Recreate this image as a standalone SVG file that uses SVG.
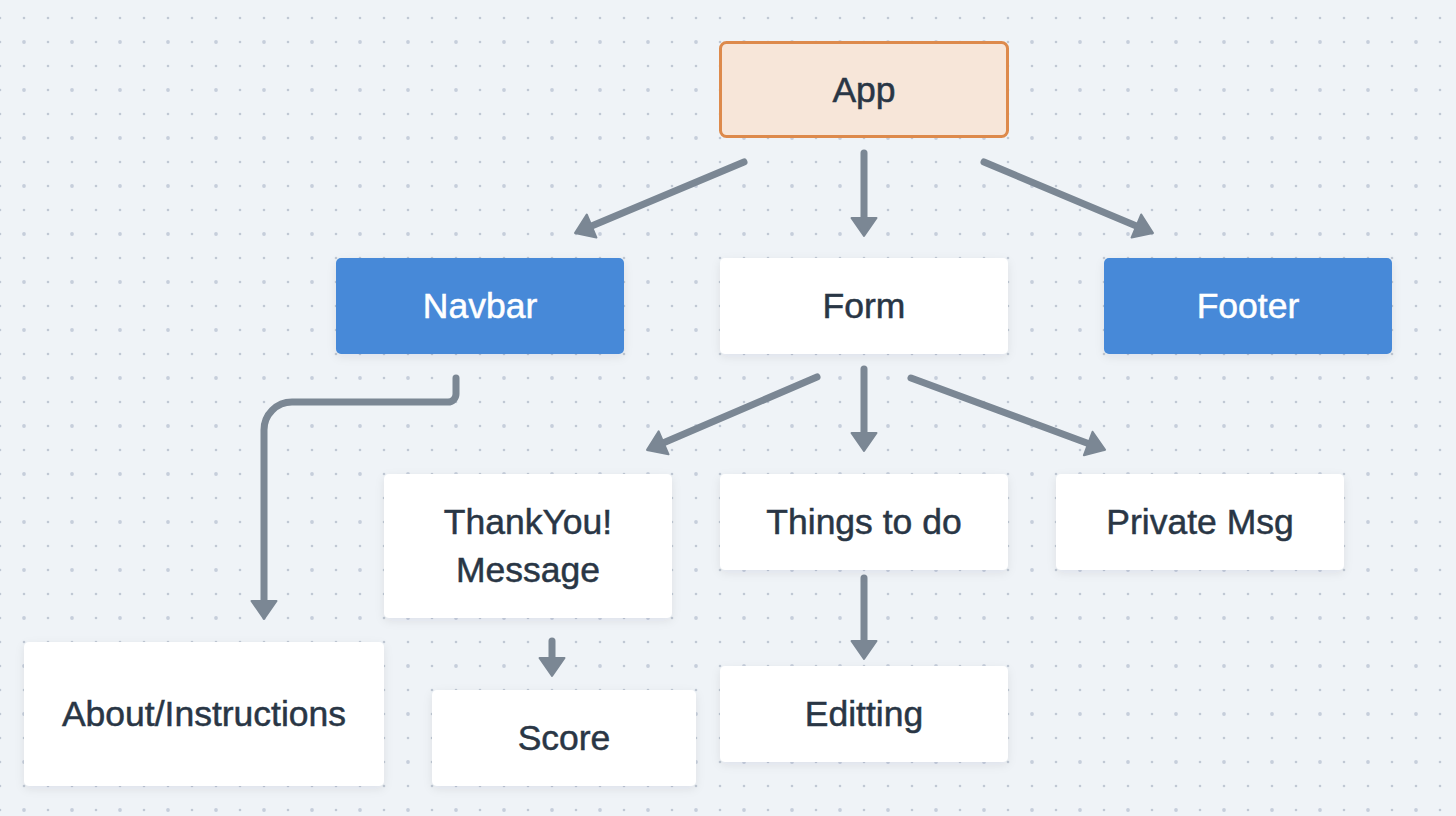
<svg xmlns="http://www.w3.org/2000/svg" width="1456" height="816" viewBox="0 0 1456 816">
<defs>
<pattern id="dots" x="0" y="18" width="48" height="48" patternUnits="userSpaceOnUse">
<circle cx="0" cy="0" r="1.3" fill="#c0c8d4"/>
<circle cx="24" cy="0" r="1.3" fill="#c0c8d4"/>
<circle cx="0" cy="24" r="1.3" fill="#c0c8d4"/>
<circle cx="24" cy="24" r="1.9" fill="#c6cedb"/>
<circle cx="48" cy="0" r="1.3" fill="#c0c8d4"/>
<circle cx="0" cy="48" r="1.3" fill="#c0c8d4"/>
<circle cx="48" cy="48" r="1.3" fill="#c0c8d4"/>
<circle cx="48" cy="24" r="1.3" fill="#c0c8d4"/>
<circle cx="24" cy="48" r="1.3" fill="#c0c8d4"/>
</pattern>
<filter id="sh" x="-10%" y="-20%" width="120%" height="150%">
<feDropShadow dx="0" dy="3" stdDeviation="5" flood-color="#1e2a3a" flood-opacity="0.08"/>
</filter>
<marker id="ah" markerUnits="userSpaceOnUse" markerWidth="40" markerHeight="40" refX="0" refY="0" orient="auto" viewBox="-4 -20 40 40" overflow="visible">
<path d="M0,-12.5 L18,0 L0,12.5 Z" fill="#7b8794" stroke="#7b8794" stroke-width="2" stroke-linejoin="round"/>
</marker>
<style>
.n{fill:#ffffff;filter:url(#sh)}
.b{fill:#4689d8;filter:url(#sh)}
.t{font-family:"Liberation Sans",Arial,sans-serif;font-size:35.5px;fill:#293645;stroke:#293645;stroke-width:0.5;text-anchor:middle}
.w{fill:#ffffff;stroke:#ffffff}
.c{fill:none;stroke:#7b8794;stroke-width:7;stroke-linecap:round;stroke-linejoin:round;marker-end:url(#ah)}
</style>
</defs>
<rect width="1456" height="816" fill="#eff3f7"/>
<rect width="1456" height="816" fill="url(#dots)"/>

<g id="connectors">
<line class="c" x1="744" y1="162" x2="591.6" y2="226"/>
<line class="c" x1="864" y1="153" x2="864" y2="218"/>
<line class="c" x1="984" y1="162" x2="1136.4" y2="226"/>
<path class="c" d="M456,378 L456,394 A8,8 0 0 1 448,402 L292,402 A28,28 0 0 0 264,430 L264,601"/>
<line class="c" x1="817" y1="377" x2="663.6" y2="442.8"/>
<line class="c" x1="864" y1="369" x2="864" y2="433"/>
<line class="c" x1="911" y1="378" x2="1088.2" y2="443.5"/>
<line class="c" x1="864" y1="578" x2="864" y2="641"/>
<line class="c" x1="552" y1="641" x2="552" y2="658"/>
</g>

<g id="app">
<rect x="720.5" y="42.5" width="287" height="94" rx="6" fill="#f7e6d9" stroke="#dd8a4c" stroke-width="3"/>
<text class="t" x="864" y="102">App</text>
</g>
<g id="navbar">
<rect class="b" x="336" y="258" width="288" height="96" rx="5"/>
<text class="t w" x="480" y="318">Navbar</text>
</g>
<g id="form">
<rect class="n" x="720" y="258" width="288" height="96" rx="5"/>
<text class="t" x="864" y="318">Form</text>
</g>
<g id="footer">
<rect class="b" x="1104" y="258" width="288" height="96" rx="5"/>
<text class="t w" x="1248" y="318">Footer</text>
</g>
<g id="thankyou">
<rect class="n" x="384" y="474" width="288" height="144" rx="5"/>
<text class="t" x="528" y="534">ThankYou!</text>
<text class="t" x="528" y="582">Message</text>
</g>
<g id="things">
<rect class="n" x="720" y="474" width="288" height="96" rx="5"/>
<text class="t" x="864" y="534">Things to do</text>
</g>
<g id="private">
<rect class="n" x="1056" y="474" width="288" height="96" rx="5"/>
<text class="t" x="1200" y="534">Private Msg</text>
</g>
<g id="about">
<rect class="n" x="24" y="642" width="360" height="144" rx="5"/>
<text class="t" x="204" y="726">About/Instructions</text>
</g>
<g id="score">
<rect class="n" x="432" y="690" width="264" height="96" rx="5"/>
<text class="t" x="564" y="750">Score</text>
</g>
<g id="editting">
<rect class="n" x="720" y="666" width="288" height="96" rx="5"/>
<text class="t" x="864" y="726">Editting</text>
</g>
</svg>
